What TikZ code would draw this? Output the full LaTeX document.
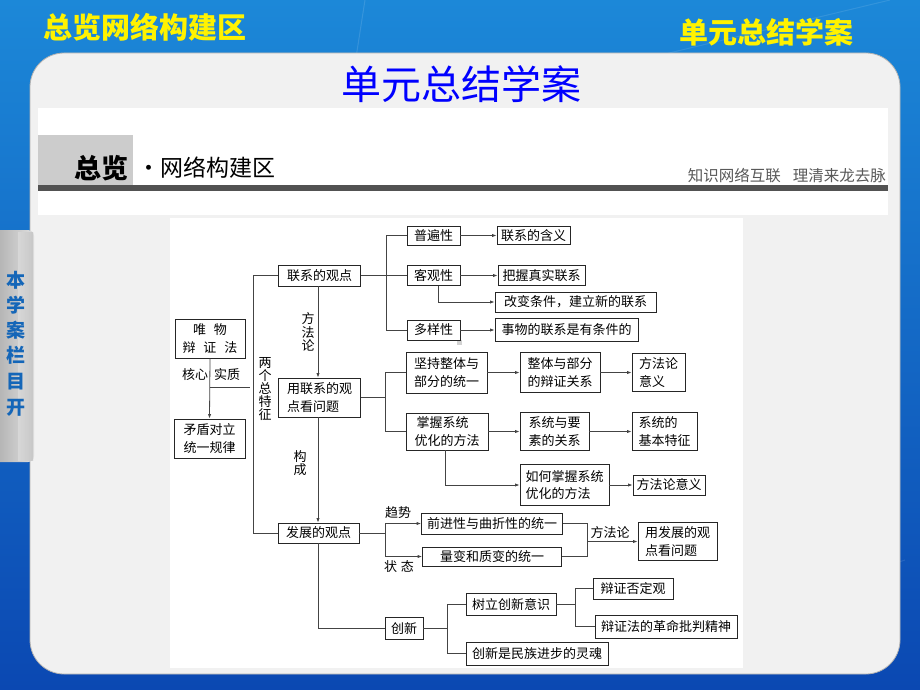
\documentclass[tikz,border=0pt]{standalone}
\usepackage{fontspec}
\setmainfont{Noto Sans CJK SC}
\usetikzlibrary{arrows.meta,calc}
\definecolor{bgtop}{HTML}{1C88D8}
\definecolor{bgbot}{HTML}{0B48B2}
\definecolor{panel}{HTML}{F1F1F1}
\definecolor{linec}{HTML}{444444}
\definecolor{sidebl}{HTML}{1466B8}
\begin{document}
\begin{tikzpicture}[x=1pt,y=-1pt,
  box/.style={draw=black!85, line width=0.7pt, fill=white, inner sep=1.5pt,
    font=\fontsize{13}{17.5}\selectfont, align=left},
  ln/.style={draw=linec, line width=0.8pt},
  arr/.style={ln, -{Latex[length=4.5pt,width=3.2pt]}},
  lbl/.style={inner sep=0pt, font=\fontsize{13}{13}\selectfont, align=center},
  vlbl/.style={inner sep=0pt, font=\fontsize{13}{13.2}\selectfont, align=center}]
\useasboundingbox (0,0) rectangle (920,690);
% background
\shade[top color=bgtop, bottom color=bgbot] (0,0) rectangle (920,690);
\draw[white, opacity=0.12, line width=1pt] (365,0) -- (340,160);
\draw[white, opacity=0.10, line width=1pt] (890,0) -- (640,60);
\draw[white, opacity=0.10, line width=1pt] (905,560) -- (860,575);
% titles
\node[font=\fontsize{29}{29}\selectfont\bfseries, text=yellow, inner sep=0pt] (t1) at (145,27) {总览网络构建区};
\node[font=\fontsize{29}{29}\selectfont\bfseries, text=yellow, inner sep=0pt] (t2) at (766,32) {单元总结学案};
% panel
\fill[panel, draw=gray!60, line width=0.8pt, rounded corners=34pt] (30,53) rectangle (900,674);
% side tab
\shade[left color=gray!65, right color=gray!25, rounded corners=6pt] (-8,230) rectangle (34,462);
\shade[left color=gray!25, right color=gray!55, opacity=0.6] (18,232) rectangle (33,460);
\foreach \c/\y [count=\i] in {本/280,学/305,案/330,栏/355,目/382,开/408}
  \node[font=\fontsize{19}{19}\selectfont\bfseries, text=sidebl, inner sep=0pt] (s\i) at (16,\y) {\c};
% main title
\node[font=\fontsize{40}{40}\selectfont, text=blue, inner sep=0pt] (mt) at (461,84) {单元总结学案};
% header band
\fill[white] (38,108) rectangle (888,215);
\fill[gray!40] (38,135) rectangle (133,185);
\fill[black!68] (38,185) rectangle (888,191);
\node[font=\fontsize{27}{27}\selectfont\bfseries, inner sep=0pt] (zl) at (101,168) {总览};
\node[font=\fontsize{23}{23}\selectfont, inner sep=0pt, anchor=west] (wl) at (137,168) {·网络构建区};
\node[font=\fontsize{15.5}{15.5}\selectfont, text=black!65, inner sep=0pt, anchor=east] (zs) at (886,176) {知识网络互联\hspace{12pt}理清来龙去脉};
% diagram area
\fill[white] (170,218) rectangle (743,668);
\fill[gray!35] (457,340) rectangle (462,345);
% nodes
\node[box, minimum width=82pt, minimum height=21pt, align=center] (lx) at (319.5,275.5) {联系的观点};
\node[box, minimum width=70pt, minimum height=39pt, align=center] (wz) at (210,338.5) {唯\hspace{8pt}物\\辩\hspace{8pt}证\hspace{8pt}法};
\node[box, minimum width=71pt, minimum height=39pt] (md) at (209.5,438.5) {矛盾对立\\统一规律};
\node[box, minimum width=82pt, minimum height=39pt] (yl) at (319.5,397.5) {用联系的观\\点看问题};
\node[box, minimum width=81pt, minimum height=20pt, align=center] (fz) at (318.5,533) {发展的观点};
\node[box, minimum width=53pt, minimum height=19pt] (pb) at (433.5,235.5) {普遍性};
\node[box, minimum width=53pt, minimum height=20pt] (kg) at (433.5,275.5) {客观性};
\node[box, minimum width=53pt, minimum height=20pt] (dy) at (433.5,330) {多样性};
\node[box, minimum width=73pt, minimum height=18pt] (hy) at (533.5,235.5) {联系的含义};
\node[box, minimum width=87pt, minimum height=20pt] (bw) at (541.5,275.5) {把握真实联系};
\node[box, minimum width=161pt, minimum height=20pt] (gb) at (575.5,302) {改变条件，建立新的联系};
\node[box, minimum width=143pt, minimum height=23pt] (sw) at (566.5,330) {事物的联系是有条件的};
\node[box, minimum width=81pt, minimum height=41pt] (jc) at (446.5,372.5) {坚持整体与\\部分的统一};
\node[box, minimum width=80pt, minimum height=40pt] (zt) at (560,372.5) {整体与部分\\的辩证关系};
\node[box, minimum width=53pt, minimum height=38pt] (ff1) at (658.5,372.5) {方法论\\意义};
\node[box, minimum width=82pt, minimum height=37pt] (zw) at (447,431.5) {\hspace{2pt}掌握系统\\优化的方法};
\node[box, minimum width=69pt, minimum height=38pt] (xy) at (554.5,431.5) {系统与要\\素的关系};
\node[box, minimum width=65pt, minimum height=38pt] (jb) at (664.5,431.5) {系统的\\基本特征};
\node[box, minimum width=89pt, minimum height=41pt] (rh) at (564.5,485) {如何掌握系统\\优化的方法};
\node[box, minimum width=72pt, minimum height=20pt] (ff2) at (669,485) {方法论意义};
\node[box, minimum width=141pt, minimum height=21pt] (qj) at (492,523.5) {前进性与曲折性的统一};
\node[box, minimum width=139pt, minimum height=19pt, align=center] (lb) at (492,556.5) {量变和质变的统一};
\node[box, minimum width=79pt, minimum height=38pt] (yf) at (677.5,541.5) {用发展的观\\点看问题};
\node[box, minimum width=38pt, minimum height=22pt] (cx) at (404,628.5) {创新};
\node[box, minimum width=90pt, minimum height=22pt] (sl) at (511,604) {树立创新意识};
\node[box, minimum width=142pt, minimum height=23pt] (cm) at (537,653.5) {创新是民族进步的灵魂};
\node[box, minimum width=80pt, minimum height=21pt] (bz) at (633,588.5) {辩证否定观};
\node[box, minimum width=142pt, minimum height=23pt] (pp) at (666,626.5) {辩证法的革命批判精神};
% labels
\node[lbl] (hx1) at (195,375) {核心};
\node[lbl] (hx2) at (227,375) {实质};
\node[vlbl] (lg) at (265,389) {两\\个\\总\\特\\征};
\node[vlbl] (fl) at (308,332) {方\\法\\论};
\node[vlbl] (gc) at (300,463) {构\\成};
\node[lbl] (qs) at (398,513) {趋势};
\node[lbl] (zt2) at (399,567) {状\hspace{4pt}态};
\node[lbl] (fl2) at (610,533) {方法论};
% coordinates
\coordinate (hxa) at (210,387);
\coordinate (hxb) at (250,387);
\coordinate (bl) at (253,0);
\coordinate (b1) at (386,0);
\coordinate (b2) at (385,0);
\coordinate (b3) at (385,0);
\coordinate (b4) at (587,0);
\coordinate (b5) at (447,0);
\coordinate (b6) at (575,0);
\coordinate (kd) at (438,0);
\coordinate (zd) at (445,0);
% connectors
\draw[arr] (wz.south) -- (md.north);
\draw[ln] (hxa) -- (hxb);
\draw[ln] (lx.west) -- (lx.west -| bl) -- (fz.west -| bl) -- (fz.west);
\draw[arr] (lx.south -| 318,0) -- (yl.north -| 318,0);
\draw[arr] (yl.south -| 318,0) -- (fz.north -| 318,0);
% 联系的观点 branches
\draw[ln] (lx.east) -- (lx.east -| b1);
\draw[ln] (pb.west) -- (pb.west -| b1) -- (dy.west -| b1) -- (dy.west);
\draw[ln] (kg.west) -- (kg.west -| b1);
\draw[arr] (pb.east) -- (pb.east -| hy.west);
\draw[arr] (kg.east) -- (kg.east -| bw.west);
\draw[arr] (kg.south -| kd) |- (gb.west);
\draw[arr] (dy.east) -- (dy.east -| sw.west);
% 用联系的观点看问题 branches
\draw[ln] (yl.east) -- (yl.east -| b2);
\draw[ln] (jc.west) -- (jc.west -| b2) -- (zw.west -| b2) -- (zw.west);
\draw[arr] (jc.east) -- (jc.east -| zt.west);
\draw[arr] (zt.east) -- (zt.east -| ff1.west);
\draw[arr] (zw.east) -- (zw.east -| xy.west);
\draw[arr] (xy.east) -- (xy.east -| jb.west);
\draw[arr] (zw.south -| zd) |- (rh.west);
\draw[arr] (rh.east) -- (rh.east -| ff2.west);
% 发展的观点 branches
\draw[ln] (fz.east) -- (fz.east -| b3);
\draw[ln] (b3 |- qj.west) -- (b3 |- lb.west);
\draw[arr] (b3 |- qj.west) -- (qj.west);
\draw[arr] (b3 |- lb.west) -- (lb.west);
\draw[ln] (qj.east) -- (qj.east -| b4) -- (lb.east -| b4) -- (lb.east);
\draw[arr] (b4 |- 0,541.5) -- (yf.west);
\draw[ln] (fz.south -| 318,0) |- (cx.west);
\draw[ln] (cx.east) -- (cx.east -| b5);
\draw[ln] (sl.west) -- (sl.west -| b5) -- (cm.west -| b5) -- (cm.west);
\draw[ln] (sl.east) -- (sl.east -| b6);
\draw[ln] (bz.west) -- (bz.west -| b6) -- (pp.west -| b6) -- (pp.west);
\end{tikzpicture}
\end{document}
